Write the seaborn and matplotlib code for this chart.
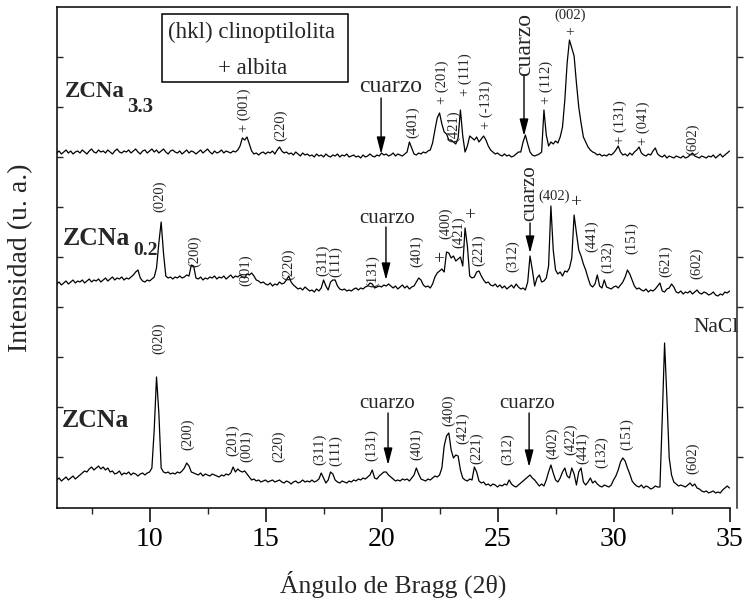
import numpy as np
import pandas as pd
import seaborn as sns
import matplotlib
matplotlib.use("Agg")
import matplotlib.pyplot as plt
from matplotlib.patches import Rectangle
from matplotlib.ticker import FixedLocator

# ---------------- data ----------------
two_theta = np.round(np.arange(6.0, 35.001, 0.1), 1)

zcna33 = [
    355, 357, 354, 356, 358, 355, 357, 354, 356, 357,
    355, 358, 356, 354, 357, 359, 356, 355, 358, 356,
    357, 355, 358, 356, 354, 357, 359, 356, 355, 357,
    356, 358, 355, 357, 359, 356, 354, 357, 358, 355,
    357, 359, 356, 358, 355, 357, 359, 356, 354, 357,
    358, 356, 355, 357, 354, 356, 358, 355, 357, 356,
    354, 356, 358, 355, 357, 359, 356, 354, 357, 355,
    356, 358, 355, 357, 356, 355, 357, 356, 358, 362,
    370, 368, 371, 364, 357, 354, 355, 353, 355, 356,
    354, 356, 355, 357, 354, 358, 361, 357, 355, 356,
    354, 355, 353, 356, 354, 352, 355, 353, 354, 352,
    353, 351, 354, 352, 353, 351, 354, 352, 351, 353,
    352, 354, 351, 353, 352, 354, 351, 352, 353, 351,
    352, 350, 353, 351, 352, 354, 352, 351, 353, 352,
    355, 353, 354, 352, 353, 355, 352, 354, 353, 352,
    354, 356, 366, 360, 354, 353, 355, 354, 356, 355,
    357, 358, 365, 378, 390, 395, 384, 376, 374, 368,
    368, 366, 364, 370, 398, 372, 356, 362, 372, 370,
    368, 371, 366, 369, 372, 368, 362, 358, 356, 354,
    355, 353, 352, 354, 352, 353, 351, 352, 354, 356,
    356, 366, 373, 364, 356, 353, 352, 353, 354, 356,
    398, 373, 362, 366, 364, 367, 365, 371, 381, 408,
    445, 468, 460, 452, 425, 401, 385, 371, 366, 361,
    358, 356, 355, 353, 354, 352, 353, 352, 354, 353,
    355, 358, 362, 356, 353, 354, 352, 355, 353, 356,
    358, 361, 355, 353, 352, 354, 353, 357, 360, 354,
    352, 351, 353, 350, 352, 351, 350, 352, 351, 350,
    352, 350, 351, 353, 355, 352, 351, 350, 352, 351,
    350, 352, 351, 353, 350, 352, 354, 351, 353, 355,
    357,
]

zcna02 = [
    224, 226, 223, 225, 227, 224, 226, 228, 225, 227,
    226, 228, 225, 227, 229, 226, 228, 227, 229, 226,
    228, 230, 227, 229, 231, 228, 230, 229, 231, 228,
    230, 229, 231, 233, 236, 238, 230, 227, 226, 228,
    227, 229, 231, 240, 265, 286, 255, 232, 230, 231,
    229, 231, 230, 232, 230, 231, 233, 232, 243, 242,
    230, 229, 231, 228, 230, 229, 231, 230, 232, 229,
    231, 230, 232, 229, 231, 233, 230, 232, 231, 233,
    231, 230, 234, 233, 235, 232, 228, 227, 225, 226,
    224, 223, 225, 222, 224, 223, 226, 224, 225, 228,
    232, 226, 223, 221, 219, 220, 218, 221, 219, 217,
    218, 216, 219, 217, 220, 228, 222, 218, 226, 228,
    228, 222, 219, 218, 219, 217, 218, 217, 219, 220,
    218, 220, 219, 221, 222, 225, 224, 220, 221, 222,
    221, 223, 222, 224, 222, 220, 222, 219, 221, 223,
    220, 222, 219, 221, 222, 226, 230, 228, 223, 221,
    222, 220, 224, 231, 235, 237, 239, 236, 256, 255,
    250, 252, 247, 249, 251, 242, 280, 262, 232, 230,
    231, 236, 237, 232, 228, 225, 226, 223, 222, 224,
    221, 223, 220, 222, 219, 221, 223, 220, 224, 221,
    219, 220, 218, 226, 252, 238, 222, 230, 233, 226,
    227, 230, 242, 302, 258, 238, 234, 236, 232, 237,
    236, 240, 250, 293, 275, 258, 252, 244, 238, 230,
    223, 221, 224, 233, 222, 220, 228, 221, 220, 219,
    221, 222, 220, 223, 226, 231, 238, 234, 228, 222,
    219, 220, 218, 217, 219, 216, 218, 217, 219, 222,
    225, 217, 216, 219, 220, 224, 221, 216, 215, 217,
    214, 216, 215, 217, 214, 216, 218, 215, 214, 216,
    215, 213, 214, 216, 213, 212, 214, 213, 216, 215,
    217,
]

zcna = [
    28, 30, 27, 29, 31, 28, 30, 32, 29, 31,
    33, 35, 37, 36, 39, 41, 38, 40, 42, 39,
    41, 38, 40, 36, 37, 34, 35, 37, 33, 35,
    34, 36, 33, 35, 34, 32, 34, 35, 33, 35,
    36, 40, 78, 131, 95, 40, 36, 35, 36, 34,
    35, 34, 36, 35, 37, 40, 45, 42, 36, 35,
    34, 33, 35, 32, 34, 33, 32, 34, 33, 32,
    31, 33, 32, 34, 33, 35, 41, 36, 39, 37,
    36, 37, 34, 31, 28, 29, 27, 28, 26, 27,
    28, 26, 27, 28, 26, 27, 28, 26, 25, 27,
    26, 24, 26, 27, 25, 26, 28, 26, 27, 26,
    28, 26, 27, 29, 35, 30, 25, 28, 36, 34,
    28, 26, 25, 27, 26, 25, 27, 26, 28, 27,
    29, 28, 30, 29, 31, 33, 38, 30, 29, 32,
    34, 36, 36, 33, 31, 29, 27, 28, 27, 29,
    28, 29, 27, 30, 33, 40, 34, 29, 28, 27,
    29, 28, 30, 32, 31, 33, 40, 62, 72, 75,
    58, 50, 53, 52, 38, 30, 28, 27, 29, 28,
    41, 36, 27, 25, 26, 23, 24, 22, 24, 23,
    21, 23, 22, 24, 23, 28, 24, 22, 21, 23,
    25, 27, 29, 31, 33, 30, 28, 25, 22, 24,
    22, 28, 36, 43, 35, 28, 26, 30, 36, 40,
    32, 30, 40, 34, 23, 36, 40, 26, 23, 26,
    30, 25, 27, 24, 22, 21, 23, 22, 21, 23,
    28, 32, 38, 46, 50, 47, 40, 34, 27, 24,
    22, 21, 23, 20, 22, 21, 19, 20, 22, 21,
    21, 90, 165, 110, 50, 33, 26, 24, 22, 23,
    22, 21, 23, 25, 22, 24, 20, 19, 17, 16,
    17, 15, 16, 17, 15, 16, 15, 18, 20, 22,
    20,
]

sample_main = ["ZCNa", "ZCNa", "ZCNa"]
sample_sub = ["3.3", "0.2", ""]

x_ticks = [10, 15, 20, 25, 30, 35]
x_minor = [7.5, 12.5, 17.5, 22.5, 27.5, 32.5]

# rotated (hkl) labels: text, 2theta, intensity
hkl_top = [("+ (001)", 14.09, 398), ("(220)", 15.63, 383), ("(401)", 21.36, 386),
           ("+ (201)", 22.61, 426), ("(421)", 23.12, 382), ("+ (111)", 23.60, 433),
           ("+ (-131)", 24.50, 403), ("+ (112)", 27.09, 426), ("+ (131)", 30.28, 386),
           ("+ (041)", 31.27, 385), ("(602)", 33.43, 369)]
hkl_mid = [("(020)", 10.45, 312), ("(200)", 11.96, 257), ("(001)", 14.12, 238),
           ("(220)", 16.01, 244), ("(311)", 17.48, 248), ("(111)", 18.04, 246),
           ("(131)", 19.63, 237), ("(401)", 21.53, 257), ("(400)", 22.78, 285),
           ("(421)", 23.34, 276), ("(221)", 24.20, 258), ("(312)", 25.67, 252),
           ("(441)", 29.07, 272), ("(132)", 29.76, 251), ("(151)", 30.80, 270),
           ("(621)", 32.26, 247), ("(602)", 33.60, 245)]
hkl_bot = [("(020)", 10.37, 170), ("(200)", 11.62, 74), ("(201)", 13.60, 68),
           ("(001)", 14.20, 62), ("(220)", 15.58, 62), ("(311)", 17.35, 59),
           ("(111)", 18.00, 57), ("(131)", 19.59, 63), ("(401)", 21.53, 64),
           ("(400)", 22.87, 98), ("(421)", 23.51, 80), ("(221)", 24.12, 60),
           ("(312)", 25.45, 59), ("(402)", 27.39, 65), ("(422)", 28.15, 69),
           ("(441)", 28.66, 60), ("(132)", 29.50, 56), ("(151)", 30.58, 74),
           ("(602)", 33.43, 50)]
# horizontal labels
hkl_flat = [("(002)", 28.12, 493), ("(402)", 27.43, 312)]
plus_marks = [(28.12, 475, 11), (22.44, 248, 14), (23.80, 292, 14), (28.38, 305, 14)]

# quartz arrows: 2theta, arrow start, arrow tip
quartz_arrows = [(19.98, 410, 354), (26.14, 433, 372),
                 (20.19, 281, 228), (26.40, 285, 255),
                 (20.28, 95, 43), (26.36, 95, 41)]

# ---------------- figure ----------------
sns.set_theme(style="ticks")
plt.rcParams["font.family"] = ["Liberation Serif", "DejaVu Serif"]

fig = plt.figure(figsize=(7.44, 6.05), dpi=100)
ax = fig.add_axes([57 / 744, 97 / 605, 673 / 744, 501 / 605])

df = pd.DataFrame({
    "two_theta": np.concatenate([two_theta] * 3),
    "intensity": np.concatenate([zcna33, zcna02, zcna]),
    "sample": np.repeat(["ZCNa3.3", "ZCNa0.2", "ZCNa"], len(two_theta)),
})
sns.lineplot(data=df, x="two_theta", y="intensity", units="sample", estimator=None,
             color="black", linewidth=0.9, ax=ax, legend=False)

ax.set_xlim(6.01, 35.02)
ax.set_ylim(0, 501)

ax.xaxis.set_major_locator(FixedLocator(x_ticks))
ax.xaxis.set_minor_locator(FixedLocator(x_minor))
ax.set_xticklabels([str(t) for t in x_ticks])
ax.tick_params(axis="x", which="major", direction="out", length=10, width=1.1,
               labelsize=20, pad=4, colors="black", top=False)
ax.tick_params(axis="x", which="minor", direction="out", length=4, width=1.0, top=False)

ax.set_yticks(np.arange(51, 501, 50))
ax.tick_params(axis="y", which="major", left=True, right=False, direction="in",
               length=4, width=1.0, labelleft=False)
ax.tick_params(axis="y", which="minor", left=False, right=False)

for s in ["left", "right", "top", "bottom"]:
    ax.spines[s].set_visible(True)
    ax.spines[s].set_linewidth(1.1)
    ax.spines[s].set_color("black")
ax.spines["right"].set_visible(False)

# separate right axis line, offset outward with outward ticks
axr = ax.twinx()
axr.set_ylim(0, 501)
axr.set_yticks(np.arange(51, 501, 50))
axr.tick_params(axis="y", direction="out", length=4, width=1.0, labelright=False, right=True)
axr.spines["right"].set_position(("outward", 5))
axr.spines["right"].set_linewidth(1.1)
for s in ["left", "top", "bottom"]:
    axr.spines[s].set_visible(False)

ax.set_xlabel("Ángulo de Bragg (2θ)", fontsize=18.5)
ax.set_ylabel("Intensidad (u. a.)", fontsize=20)
ax.xaxis.set_label_coords(0.5, -0.125)
ax.yaxis.set_label_coords(-0.036, 0.5)

# sample names (bold, with subscripts)
ax.text(6.36, 411, sample_main[0], fontsize=16.5, fontweight="bold", ha="left", va="baseline")
ax.text(9.02, 396, sample_sub[0], fontsize=15, fontweight="bold", ha="left", va="baseline")
ax.text(6.27, 263, sample_main[1], fontsize=18.5, fontweight="bold", ha="left", va="baseline")
ax.text(9.30, 253, sample_sub[1], fontsize=14, fontweight="bold", ha="left", va="baseline")
ax.text(6.23, 81, sample_main[2], fontsize=18.5, fontweight="bold", ha="left", va="baseline")

# legend box
ax.add_patch(Rectangle((10.54, 426), 8.02, 68, fill=False, lw=1.1, ec="black"))
ax.text(14.40, 476, "(hkl) clinoptilolita", fontsize=16.5, ha="center", va="center")
ax.text(14.44, 440, "+ albita", fontsize=16.5, ha="center", va="center")

# hkl labels
for lab, x, y in hkl_top + hkl_mid + hkl_bot:
    ax.text(x, y, lab, rotation=90, fontsize=10.5, ha="center", va="center")
for lab, x, y in hkl_flat:
    ax.text(x, y, lab, fontsize=10.5, ha="center", va="center")
for x, y, fs in plus_marks:
    ax.text(x, y, "+", fontsize=fs, ha="center", va="center")

# quartz arrows and labels
for x, y0, y1 in quartz_arrows:
    ax.annotate("", xy=(x, y1), xytext=(x, y0),
                arrowprops=dict(arrowstyle="-|>,head_length=0.85,head_width=0.22",
                                color="black", lw=1.0, shrinkA=0, shrinkB=0))
ax.text(20.37, 416, "cuarzo", fontsize=17, ha="center", va="baseline")
ax.text(26.17, 464, "cuarzo", fontsize=17, rotation=90, ha="center", va="center")
ax.text(20.26, 285, "cuarzo", fontsize=15, ha="center", va="baseline")
ax.text(26.37, 315, "cuarzo", fontsize=15, rotation=90, ha="center", va="center")
ax.text(20.26, 100, "cuarzo", fontsize=15, ha="center", va="baseline")
ax.text(26.29, 100, "cuarzo", fontsize=15, ha="center", va="baseline")
ax.text(34.40, 181, "NaCl", fontsize=15.5, ha="center", va="center")

fig.savefig("out.png", dpi=100)
